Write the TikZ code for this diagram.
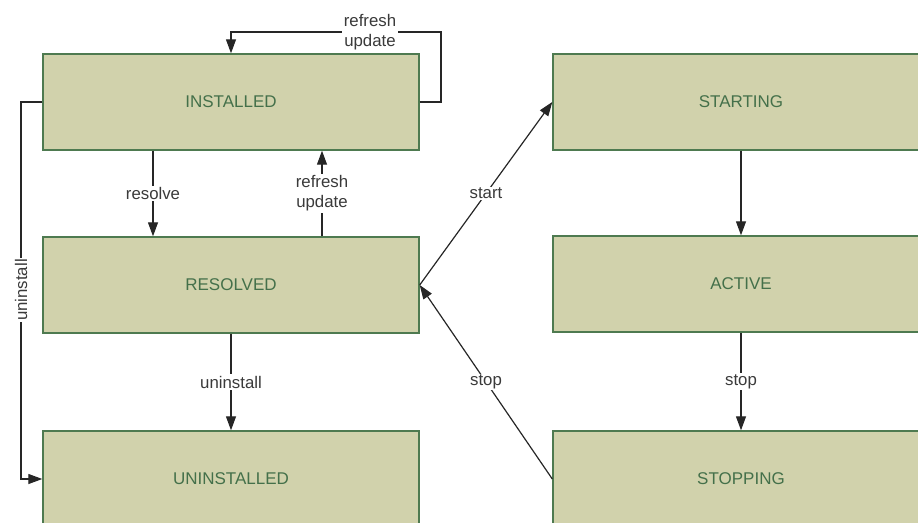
\documentclass[tikz,border=0pt]{standalone}
\usepackage{fontspec}
\setmainfont{Liberation Sans}
\usetikzlibrary{arrows.meta}
\definecolor{boxfill}{HTML}{D1D2AC}
\definecolor{boxline}{HTML}{4E7A50}
\definecolor{boxtext}{HTML}{44704A}
\definecolor{wire}{HTML}{262626}
\definecolor{labeltext}{HTML}{3A3A3A}
\begin{document}
\begin{tikzpicture}[x=1pt,y=-1pt,
  state/.style={draw=boxline, line width=1.4pt, fill=boxfill, rectangle,
    minimum width=376pt, minimum height=96pt, inner sep=0pt,
    text=boxtext, font=\fontsize{17}{20}\selectfont},
  conn/.style={draw=wire, line width=1.2pt},
  arr/.style={conn, -{Triangle[length=14pt,width=10pt]}},
  lbl/.style={fill=white, inner sep=1.5pt, text=labeltext, align=center,
    font=\fontsize{16.8}{20}\selectfont}]
\useasboundingbox (0,0) rectangle (918,522);
\begin{scope}
\clip (0,0) rectangle (918,522);
% bundle states
\node[state] (inst)   at (231,102) {INSTALLED};
\node[state] (res)    at (231,285) {RESOLVED};
\node[state] (uninst) at (231,479) {UNINSTALLED};
\node[state] (start)  at (741,102) {STARTING};
\node[state] (active) at (741,284) {ACTIVE};
\node[state] (stop)   at (741,479) {STOPPING};

% routing points for the elbow connectors
\coordinate (loopR) at (441,32);
\coordinate (loopL) at (21,290);

% refresh/update back onto INSTALLED
\draw[arr] (inst.east) -| (loopR) -- (inst.north |- loopR) -- (inst.north);
\node[lbl] (lrefresh) at (370,32) {refresh\\update};

% INSTALLED straight to UNINSTALLED
\draw[arr] (inst.west) -| (loopL) |- (uninst.west);
\node[lbl, rotate=90] (luninst) at (loopL) {uninstall};

% INSTALLED <-> RESOLVED
\draw[arr] ([xshift=-78pt]inst.south) -- ([xshift=-78pt]res.north)
  node[lbl, midway] (lresolve) {resolve};
\draw[arr] ([xshift=91pt]res.north) -- ([xshift=91pt]inst.south)
  node[lbl, midway] (lrefresh2) {refresh\\update};

% RESOLVED -> UNINSTALLED
\draw[arr] (res.south) -- (uninst.north)
  node[lbl, midway] (luninst2) {uninstall};

% start / stop between the columns
\draw[arr] (res.east) -- (start.west)
  node[lbl, midway, inner sep=1pt] (lstart) {start};
\draw[arr] (stop.west) -- (res.east)
  node[lbl, midway, inner sep=1pt] (lstop) {stop};

% right column
\draw[arr] (start.south) -- (active.north);
\draw[arr] (active.south) -- (stop.north)
  node[lbl, midway] (lstop2) {stop};
\end{scope}
\end{tikzpicture}
\end{document}
